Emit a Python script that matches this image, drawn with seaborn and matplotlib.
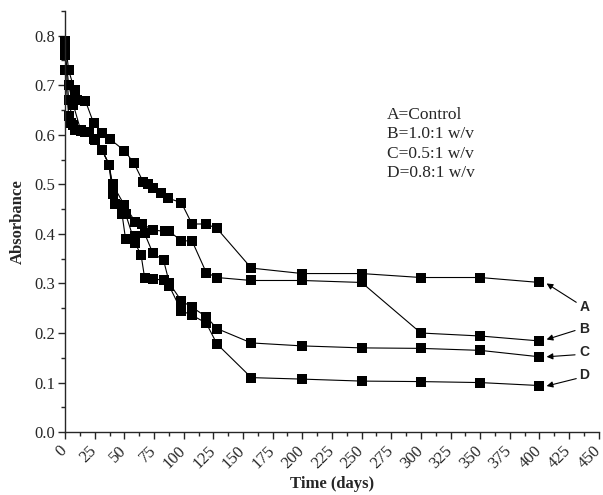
import matplotlib
matplotlib.use("Agg")
import matplotlib.pyplot as plt
import matplotlib.transforms as mtransforms
import seaborn as sns
import numpy as np
from matplotlib.ticker import MultipleLocator

sns.set_style("ticks")
plt.rcParams['font.family'] = ['Liberation Serif', 'DejaVu Serif']

days_a = [0, 3, 8, 10, 17, 24, 31, 38, 50, 58, 66, 70, 74, 81, 87, 98, 107, 119, 128, 157, 200, 250, 300, 350, 400]
abs_a = [0.79, 0.73, 0.69, 0.67, 0.669, 0.624, 0.603, 0.591, 0.568, 0.543, 0.504, 0.50, 0.492, 0.483, 0.472, 0.463,
         0.42, 0.42, 0.411, 0.331, 0.32, 0.32, 0.312, 0.312, 0.302]

days_b = [0, 3, 7, 13, 17, 24, 31, 37, 40, 50, 59, 65, 74, 84, 88, 98, 107, 119, 128, 157, 200, 250, 300, 350, 400]
abs_b = [0.77, 0.70, 0.66, 0.61, 0.605, 0.591, 0.57, 0.54, 0.50, 0.458, 0.425, 0.42, 0.408, 0.405, 0.405, 0.386,
         0.386, 0.322, 0.312, 0.306, 0.306, 0.302, 0.20, 0.194, 0.184]

days_c = [0, 3, 7, 13, 20, 25, 31, 37, 40, 48, 51, 59, 67, 74, 83, 88, 98, 107, 119, 128, 157, 200, 250, 300, 350, 400]
abs_c = [0.76, 0.67, 0.62, 0.607, 0.605, 0.59, 0.57, 0.54, 0.48, 0.44, 0.389, 0.396, 0.401, 0.361, 0.347, 0.30,
         0.265, 0.252, 0.233, 0.209, 0.18, 0.174, 0.17, 0.169, 0.165, 0.152]

days_d = [0, 3, 5, 8, 13, 17, 25, 31, 37, 42, 51, 59, 64, 67, 74, 83, 88, 98, 107, 119, 128, 157, 200, 250, 300, 350, 400]
abs_d = [0.73, 0.637, 0.624, 0.61, 0.607, 0.605, 0.59, 0.57, 0.54, 0.46, 0.44, 0.381, 0.358, 0.312, 0.31, 0.306,
         0.294, 0.245, 0.236, 0.22, 0.178, 0.11, 0.107, 0.103, 0.102, 0.10, 0.094]

series_labels = ["A", "B", "C", "D"]
legend_lines = ["A=Control", "B=1.0:1 w/v", "C=0.5:1 w/v", "D=0.8:1 w/v"]
xticks = list(range(0, 451, 25))
yticks = [0.0, 0.1, 0.2, 0.3, 0.4, 0.5, 0.6, 0.7, 0.8]

fig = plt.figure(figsize=(6.03, 4.95), dpi=100)
ax = fig.add_axes([0.108, 0.127, 0.885, 0.851])

for d, v in [(days_a, abs_a), (days_b, abs_b), (days_c, abs_c), (days_d, abs_d)]:
    sns.lineplot(x=d, y=v, ax=ax, color="black", linewidth=0.8, marker="s",
                 markersize=6.5, markeredgewidth=0, markerfacecolor="black",
                 clip_on=False, estimator=None)

ax.set_xlim(0, 450)
ax.set_ylim(0, 0.85)
ax.set_xticks(xticks)
ax.set_yticks(yticks)
ax.set_yticklabels([f"{t:.1f}" for t in yticks], fontsize=12)
ax.xaxis.set_minor_locator(MultipleLocator(12.5))
ax.yaxis.set_minor_locator(MultipleLocator(0.05))
ax.tick_params(which="major", length=5, width=1, direction="out", pad=2)
ax.tick_params(which="minor", length=3, width=1, direction="out")
ax.set_xticklabels([str(t) for t in xticks], rotation=45, ha="right", va="top",
                   rotation_mode="anchor", fontsize=12)
offset = mtransforms.ScaledTranslation(-6 / 100, -1 / 100, fig.dpi_scale_trans)
for tick in ax.xaxis.get_major_ticks():
    tick.label1.set_transform(tick.label1.get_transform() + offset)
for s in ["top", "right"]:
    ax.spines[s].set_visible(False)
for s in ["left", "bottom"]:
    ax.spines[s].set_linewidth(1.0)

ax.set_xlabel("Time (days)", fontsize=12, fontweight="bold", labelpad=3)
ax.set_ylabel("Absorbance", fontsize=12, fontweight="bold", labelpad=6)

# legend text
ax.text(0.603, 0.772, "\n".join(legend_lines), transform=ax.transAxes, fontsize=12.5,
        va="top", ha="left", linespacing=1.28)

# arrows with letters
label_pos = [(438, 0.253), (438, 0.209), (438, 0.162), (438, 0.115)]
tails = [(431, 0.262), (430, 0.205), (430, 0.156), (431, 0.108)]
heads = [(406, 0.30), (406, 0.187), (406, 0.152), (406, 0.093)]
for lab, lp, t, h in zip(series_labels, label_pos, tails, heads):
    ax.annotate("", xy=h, xytext=t, arrowprops=dict(arrowstyle="-|>", color="black", lw=0.8,
                mutation_scale=9, shrinkA=0, shrinkB=0), annotation_clip=False)
    ax.text(lp[0], lp[1], lab, fontsize=10, fontweight="bold", family=["Liberation Sans"],
            ha="center", va="center")

fig.savefig("out.png", dpi=100)
